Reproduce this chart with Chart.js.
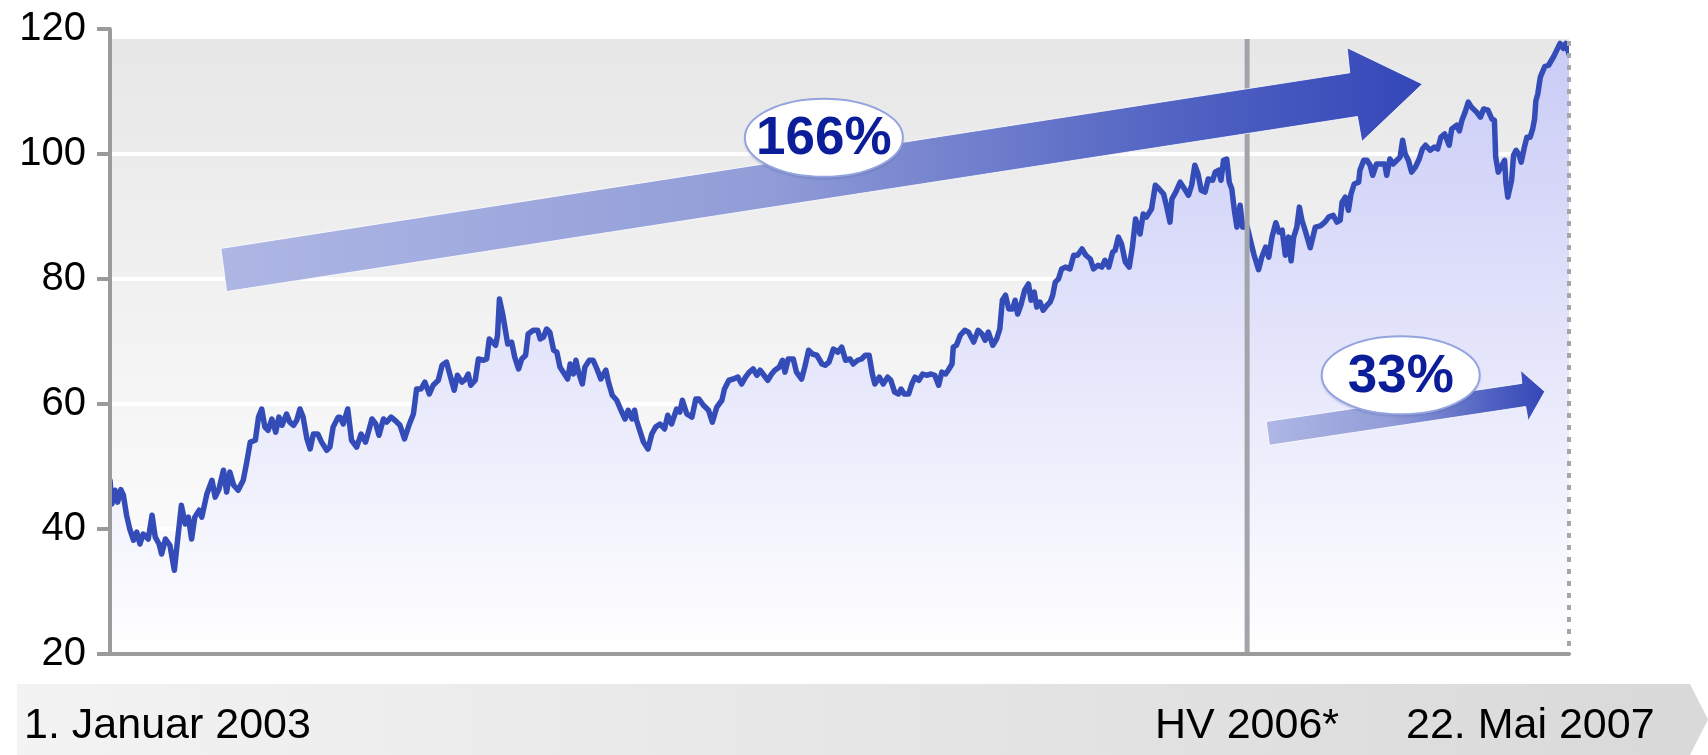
<!DOCTYPE html>
<html>
<head>
<meta charset="utf-8">
<script src="https://cdn.jsdelivr.net/npm/chart.js@4.4.1/dist/chart.umd.min.js"></script>
<style>
  html, body { margin: 0; padding: 0; background: #fff; }
  #wrap { position: relative; width: 1708px; height: 755px; }
</style>
</head>
<body>
<div id="wrap"><canvas id="chart"></canvas></div>
<script>
// Share price, x = weeks since 1 Jan 2003
const weeks = [
  0, 0.3, 0.8, 1.2, 1.7, 2.1, 2.6, 3.1, 3.7, 4.2, 4.7, 5.2, 6.0, 6.6, 7.1, 7.7, 8.1, 8.7, 9.4, 10.1,
  10.6, 11.2, 11.8, 12.3, 12.8, 13.3, 14.0, 14.4, 15.2, 16.0, 16.5, 17.1, 17.8, 18.3, 18.8, 19.4, 20.1, 20.9, 21.4, 22.0,
  22.8, 23.3, 23.8, 24.3, 24.8, 25.4, 26.0, 26.5, 27.0, 27.7, 28.2, 28.8, 29.3, 29.8, 30.3, 30.9, 31.4, 31.9, 32.6, 33.2,
  34.0, 34.5, 35.0, 35.8, 36.1, 36.6, 37.3, 37.9, 38.7, 39.4, 40.1, 41.1, 41.7, 42.2, 42.9, 43.4, 44.1, 44.7, 45.5, 46.2,
  46.9, 47.6, 48.1, 48.8, 49.4, 50.1, 50.7, 51.5, 52.1, 52.8, 53.3, 54.0, 54.5, 55.2, 55.8, 56.2, 56.6, 57.3, 57.8, 58.6,
  59.1, 59.5, 60.0, 60.5, 60.8, 61.1, 61.6, 62.0, 62.4, 63.0, 63.5, 64.1, 64.6, 65.2, 65.6, 66.4, 67.1, 67.5, 68.0, 68.5,
  69.0, 69.6, 70.1, 70.6, 71.3, 71.8, 72.2, 72.7, 73.1, 73.5, 74.1, 74.5, 75.2, 75.8, 76.4, 77.0, 77.8, 78.2, 78.8, 79.5,
  80.3, 80.8, 81.3, 81.9, 82.3, 82.6, 83.2, 83.7, 84.4, 85.0, 85.6, 86.3, 87.0, 87.5, 88.1, 88.9, 89.4, 89.8, 90.5, 91.3,
  91.9, 92.4, 93.1, 93.9, 94.5, 95.2, 96.0, 96.4, 97.1, 97.8, 98.5, 99.1, 99.7, 100.3, 100.9, 101.5, 102.0, 102.6, 103.2, 103.8,
  104.3, 105.0, 105.5, 105.9, 106.4, 107.2, 107.7, 108.5, 109.0, 109.6, 110.2, 110.9, 111.7, 112.2, 112.8, 113.5, 114.2, 114.8, 115.4, 116.1,
  116.6, 117.3, 117.9, 118.5, 119.1, 119.6, 120.0, 120.7, 121.3, 122.0, 122.5, 123.1, 123.7, 124.1, 124.6, 125.3, 125.8, 126.3, 126.9, 127.5,
  128.1, 128.8, 129.4, 130.0, 130.5, 131.1, 131.5, 132.1, 132.3, 132.8, 133.4, 134.1, 134.7, 135.5, 136.2, 136.8, 137.3, 137.8, 138.5, 139.1,
  139.6, 140.0, 140.5, 141.0, 141.6, 142.0, 142.4, 142.9, 143.5, 144.1, 144.5, 145.0, 145.4, 145.9, 146.4, 147.0, 147.5, 147.9, 148.3, 148.8,
  149.3, 149.9, 150.6, 151.2, 151.8, 152.5, 153.1, 153.8, 154.3, 155.0, 155.6, 156.1, 156.7, 157.3, 157.7, 158.2, 158.7, 159.3, 159.9, 160.4,
  160.9, 161.6, 162.1, 162.6, 163.4, 164.0, 164.6, 165.3, 165.8, 166.3, 166.6, 167.2, 167.9, 168.4, 169.2, 169.7, 170.2, 170.7, 171.2, 171.8,
  172.3, 173.0, 173.4, 173.9, 174.3, 174.7, 175.2, 175.6, 176.0, 176.4, 176.8, 177.3, 177.7, 178.4, 179.2, 179.5, 180.2, 180.7, 181.3, 181.8,
  182.3, 182.9, 183.4, 183.9, 184.4, 184.9, 185.3, 185.7, 186.2, 186.6, 187.0, 187.5, 188.3, 189.1, 189.9, 190.6, 191.2, 191.9, 192.5, 193.0,
  193.3, 193.8, 194.3, 194.7, 195.2, 195.9, 196.1, 196.7, 197.2, 197.7, 198.1, 198.7, 199.4, 200.0, 200.3, 200.8, 201.3, 201.9, 202.4, 202.8,
  203.2, 203.7, 204.2, 204.8, 205.4, 205.9, 206.4, 207.1, 207.8, 208.3, 208.8, 209.4, 210.1, 210.5, 211.3, 211.7, 212.1, 212.6, 213.1, 213.6,
  214.4, 215.0, 215.5, 216.2, 216.8, 217.2, 217.4, 217.8, 218.4, 218.8, 219.0, 219.3, 219.9, 220.2, 220.6, 221.0, 221.4, 221.9, 222.3, 222.8,
  223.2, 223.5, 223.7, 224.0, 224.4, 225.1, 225.7, 226.5, 227.5, 228.0, 228.4, 228.9
];
const prices = [
  47.8, 44.0, 46.2, 44.3, 46.3, 45.4, 42.2, 40.0, 38.2, 39.5, 37.6, 39.2, 38.4, 42.2, 38.7, 37.6, 36.0, 38.4, 37.4, 33.4,
  38.2, 43.8, 40.8, 41.9, 38.4, 41.9, 43.0, 41.9, 45.6, 47.8, 45.1, 46.4, 49.4, 45.9, 49.1, 47.0, 46.2, 47.8, 50.4, 53.9,
  54.2, 57.9, 59.2, 56.3, 55.8, 57.6, 55.5, 57.9, 56.6, 58.4, 57.1, 56.6, 57.4, 59.2, 57.9, 54.4, 52.8, 55.2, 55.2, 53.9,
  52.6, 53.1, 56.3, 57.9, 57.9, 56.8, 59.2, 54.2, 53.1, 55.2, 53.9, 57.6, 56.8, 55.0, 57.6, 57.1, 57.9, 57.4, 56.6, 54.4,
  56.6, 58.4, 62.4, 62.4, 63.5, 61.6, 63.0, 63.8, 66.2, 66.7, 64.8, 62.2, 64.6, 63.5, 64.0, 64.8, 63.0, 63.8, 67.2, 67.0,
  67.2, 70.4, 69.9, 69.4, 71.0, 76.8, 74.4, 72.0, 69.6, 69.9, 67.5, 65.6, 67.2, 67.8, 71.2, 71.8, 71.8, 70.4, 70.7, 72.0,
  71.5, 68.6, 68.3, 65.9, 64.8, 64.0, 66.4, 64.8, 67.0, 65.1, 63.2, 65.9, 67.0, 67.0, 65.6, 64.0, 65.4, 63.5, 61.4, 60.6,
  58.7, 57.6, 59.0, 57.6, 59.0, 57.4, 55.5, 53.9, 52.8, 55.2, 56.3, 56.8, 56.0, 58.2, 56.8, 59.2, 58.7, 60.6, 58.4, 57.9,
  60.8, 60.8, 59.8, 59.0, 57.1, 59.5, 60.6, 62.4, 63.8, 64.0, 64.3, 63.2, 64.3, 65.1, 65.6, 64.6, 65.4, 64.6, 63.8, 64.8,
  65.4, 65.9, 67.0, 65.1, 67.2, 67.2, 65.1, 64.0, 65.9, 68.6, 68.0, 67.8, 66.4, 66.2, 66.7, 68.8, 68.3, 69.1, 67.0, 67.2,
  66.4, 67.0, 67.2, 67.8, 67.8, 64.8, 63.2, 64.3, 63.2, 64.3, 63.8, 61.9, 61.6, 62.4, 61.6, 61.6, 63.2, 64.3, 63.8, 64.8,
  64.6, 64.8, 64.6, 63.0, 65.1, 64.8, 65.4, 66.4, 69.1, 69.4, 71.0, 71.8, 71.5, 69.9, 71.8, 71.2, 70.2, 71.5, 69.4, 70.4,
  72.0, 76.6, 77.4, 75.2, 75.2, 76.6, 74.4, 75.8, 78.2, 79.2, 76.6, 77.9, 75.5, 76.3, 75.0, 75.8, 76.3, 77.4, 79.5, 80.0,
  81.6, 81.9, 81.6, 83.8, 83.8, 84.8, 83.8, 83.2, 81.6, 82.2, 81.9, 83.0, 81.9, 84.3, 84.6, 86.7, 85.6, 82.7, 81.9, 85.1,
  89.6, 87.2, 90.4, 89.9, 91.2, 95.0, 94.4, 93.6, 91.5, 89.1, 92.8, 93.9, 95.5, 94.7, 93.4, 95.0, 98.2, 96.8, 94.2, 93.9,
  96.0, 95.8, 97.1, 97.4, 95.8, 99.0, 99.2, 95.5, 94.4, 91.0, 88.3, 91.8, 88.3, 88.4, 85.0, 83.8, 81.5, 83.5, 85.1, 83.5,
  86.7, 89.0, 87.5, 87.8, 83.8, 86.7, 82.9, 86.7, 88.3, 91.5, 89.4, 87.8, 85.0, 88.3, 88.5, 89.1, 89.9, 90.2, 89.1, 89.4,
  92.3, 93.1, 91.0, 93.6, 95.2, 95.5, 97.4, 99.0, 99.0, 98.2, 96.6, 98.4, 98.4, 98.4, 96.6, 99.2, 98.4, 99.0, 99.5, 102.2,
  100.0, 99.0, 97.1, 97.9, 99.2, 100.8, 101.4, 100.6, 101.1, 100.8, 102.7, 103.2, 101.4, 104.0, 104.6, 103.7, 105.4, 106.7, 108.3, 107.5,
  106.7, 105.9, 107.2, 107.0, 105.6, 105.4, 99.5, 97.1, 98.2, 99.0, 95.5, 93.1, 95.8, 99.8, 100.6, 100.0, 98.7, 101.1, 102.7, 102.7,
  104.0, 105.6, 108.5, 109.6, 112.3, 114.0, 114.2, 115.6, 117.7, 116.9, 117.7, 116.0
];

const yTicks = [20, 40, 60, 80, 100, 120];
const lastWeek = 228.9;   // 22. Mai 2007
const hvWeek = 178.4;     // HV 2006
const bottomLabels = ['1. Januar 2003', 'HV 2006*', '22. Mai 2007'];

// growth arrows, corners as [week, price]
const bigArrow = [[17.4, 84.9], [194.5, 113.0], [194.1, 117.0], [205.9, 111.2], [196.4, 102.0], [195.7, 106.0], [18.3, 78.0]];
const smallArrow = [[181.4, 57.2], [221.5, 63.3], [221.3, 65.4], [225.1, 62.0], [222.5, 57.3], [222.1, 59.6], [181.9, 53.4]];
const badgeLabels = ['166%', '33%'];
const badgeWeeks = [112.0, 202.5];
const badgeValues = [102.6, 64.6];

const FONT = '"Liberation Sans", Arial, sans-serif';
const axisGray = '#9b9b9b';

function drawArrow(ctx, chart, pts) {
  const xs = chart.scales.x, ys = chart.scales.y;
  const p = pts.map(([w, v]) => [xs.getPixelForValue(w), ys.getPixelForValue(v)]);
  const minX = Math.min(...p.map(q => q[0]));
  const maxX = Math.max(...p.map(q => q[0]));
  const g = ctx.createLinearGradient(minX, 0, maxX, 0);
  g.addColorStop(0, '#aeb7e4');
  g.addColorStop(0.45, '#929dd8');
  g.addColorStop(0.8, '#5062c2');
  g.addColorStop(1, '#3447b8');
  ctx.beginPath();
  p.forEach(([x, y], i) => i ? ctx.lineTo(x, y) : ctx.moveTo(x, y));
  ctx.closePath();
  ctx.fillStyle = g;
  ctx.fill();
  ctx.strokeStyle = 'rgba(255,255,255,0.8)';
  ctx.lineWidth = 1;
  ctx.stroke();
}

const decor = {
  id: 'decor',
  beforeDraw(chart) {
    const { ctx, chartArea: a } = chart;
    ctx.save();
    // plot background
    const bg = ctx.createLinearGradient(0, a.top + 10, 0, a.bottom);
    bg.addColorStop(0, '#e7e7e7');
    bg.addColorStop(1, '#ffffff');
    ctx.fillStyle = bg;
    ctx.fillRect(a.left, a.top + 10, a.right - a.left, a.bottom - a.top - 10);
    // bottom time band
    const top = 684, bot = 755, l = 17, r = 1690, tip = 1708;
    const bg2 = ctx.createLinearGradient(l, 0, tip, 0);
    bg2.addColorStop(0, '#f3f3f3');
    bg2.addColorStop(1, '#d9d9d9');
    ctx.beginPath();
    ctx.moveTo(l, top); ctx.lineTo(r, top); ctx.lineTo(tip, (top + bot) / 2);
    ctx.lineTo(r, bot); ctx.lineTo(l, bot); ctx.closePath();
    ctx.fillStyle = bg2;
    ctx.fill();
    ctx.restore();
  },
  afterDatasetsDraw(chart) {
    const { ctx, chartArea: a, scales: { x } } = chart;
    ctx.save();
    // HV 2006 marker
    const hx = x.getPixelForValue(hvWeek);
    ctx.strokeStyle = '#a3a3ab';
    ctx.lineWidth = 5;
    ctx.beginPath(); ctx.moveTo(hx, a.top + 10); ctx.lineTo(hx, a.bottom); ctx.stroke();
    // dotted end marker
    ctx.strokeStyle = '#a6a6a6';
    ctx.lineWidth = 4;
    ctx.setLineDash([5, 7]);
    ctx.beginPath(); ctx.moveTo(a.right, a.top + 12); ctx.lineTo(a.right, a.bottom); ctx.stroke();
    ctx.setLineDash([]);
    // axes
    ctx.strokeStyle = axisGray;
    ctx.lineWidth = 4;
    ctx.lineCap = 'round';
    ctx.beginPath();
    ctx.moveTo(a.left, a.top); ctx.lineTo(a.left, a.bottom); ctx.lineTo(a.right, a.bottom);
    ctx.stroke();
    ctx.restore();
  },
  afterDraw(chart) {
    const { ctx, scales: { x, y } } = chart;
    ctx.save();
    drawArrow(ctx, chart, bigArrow);
    drawArrow(ctx, chart, smallArrow);
    badgeLabels.forEach((txt, i) => {
      const cx = x.getPixelForValue(badgeWeeks[i]);
      const cy = y.getPixelForValue(badgeValues[i]);
      ctx.beginPath();
      ctx.ellipse(cx, cy, 79, 39, 0, 0, Math.PI * 2);
      ctx.fillStyle = '#ffffff';
      ctx.shadowColor = 'rgba(60,70,140,0.35)';
      ctx.shadowOffsetY = 2;
      ctx.shadowBlur = 3;
      ctx.fill();
      ctx.shadowColor = 'transparent';
      ctx.strokeStyle = '#93a4df';
      ctx.lineWidth = 2;
      ctx.stroke();
      ctx.fillStyle = '#0b1d98';
      ctx.font = 'bold 53px ' + FONT;
      ctx.textAlign = 'center';
      ctx.textBaseline = 'middle';
      ctx.fillText(txt, cx, cy + 2);
    });
    ctx.fillStyle = '#000';
    ctx.font = '43px ' + FONT;
    ctx.textAlign = 'left';
    ctx.textBaseline = 'alphabetic';
    ctx.fillText(bottomLabels[0], 24, 738);
    ctx.fillText(bottomLabels[1], 1155, 738);
    ctx.fillText(bottomLabels[2], 1406, 738);
    ctx.restore();
  }
};

new Chart(document.getElementById('chart'), {
  type: 'line',
  data: {
    datasets: [{
      data: weeks.map((w, i) => ({ x: w, y: prices[i] })),
      borderColor: '#344cb8',
      borderWidth: 5.5,
      borderJoinStyle: 'round',
      borderCapStyle: 'round',
      pointRadius: 0,
      tension: 0,
      fill: 'start',
      backgroundColor(ctx) {
        const a = ctx.chart.chartArea;
        if (!a) return '#e0e0fa';
        const g = ctx.chart.ctx.createLinearGradient(0, a.top, 0, a.bottom);
        g.addColorStop(0, '#c8caf6');
        g.addColorStop(1, '#ffffff');
        return g;
      }
    }]
  },
  options: {
    responsive: true,
    maintainAspectRatio: false,
    animation: false,
    layout: { padding: { top: 29, right: 139, bottom: 101, left: 0 } },
    plugins: { legend: { display: false }, tooltip: { enabled: false } },
    scales: {
      x: { type: 'linear', min: 0, max: lastWeek, display: false },
      y: {
        min: 20,
        max: 120,
        afterBuildTicks(scale) { scale.ticks = yTicks.map(v => ({ value: v })); },
        afterFit(scale) {
          scale.width = 110;
          scale.paddingTop = 0;
          scale.paddingBottom = 0;
        },
        border: { display: false },
        grid: {
          color: '#ffffff',
          lineWidth: 4,
          tickColor: axisGray,
          tickWidth: 4,
          tickLength: 13
        },
        ticks: {
          color: '#000',
          padding: 11,
          font: { family: FONT, size: 40 }
        }
      }
    }
  },
  plugins: [decor]
});
</script>
</body>
</html>
